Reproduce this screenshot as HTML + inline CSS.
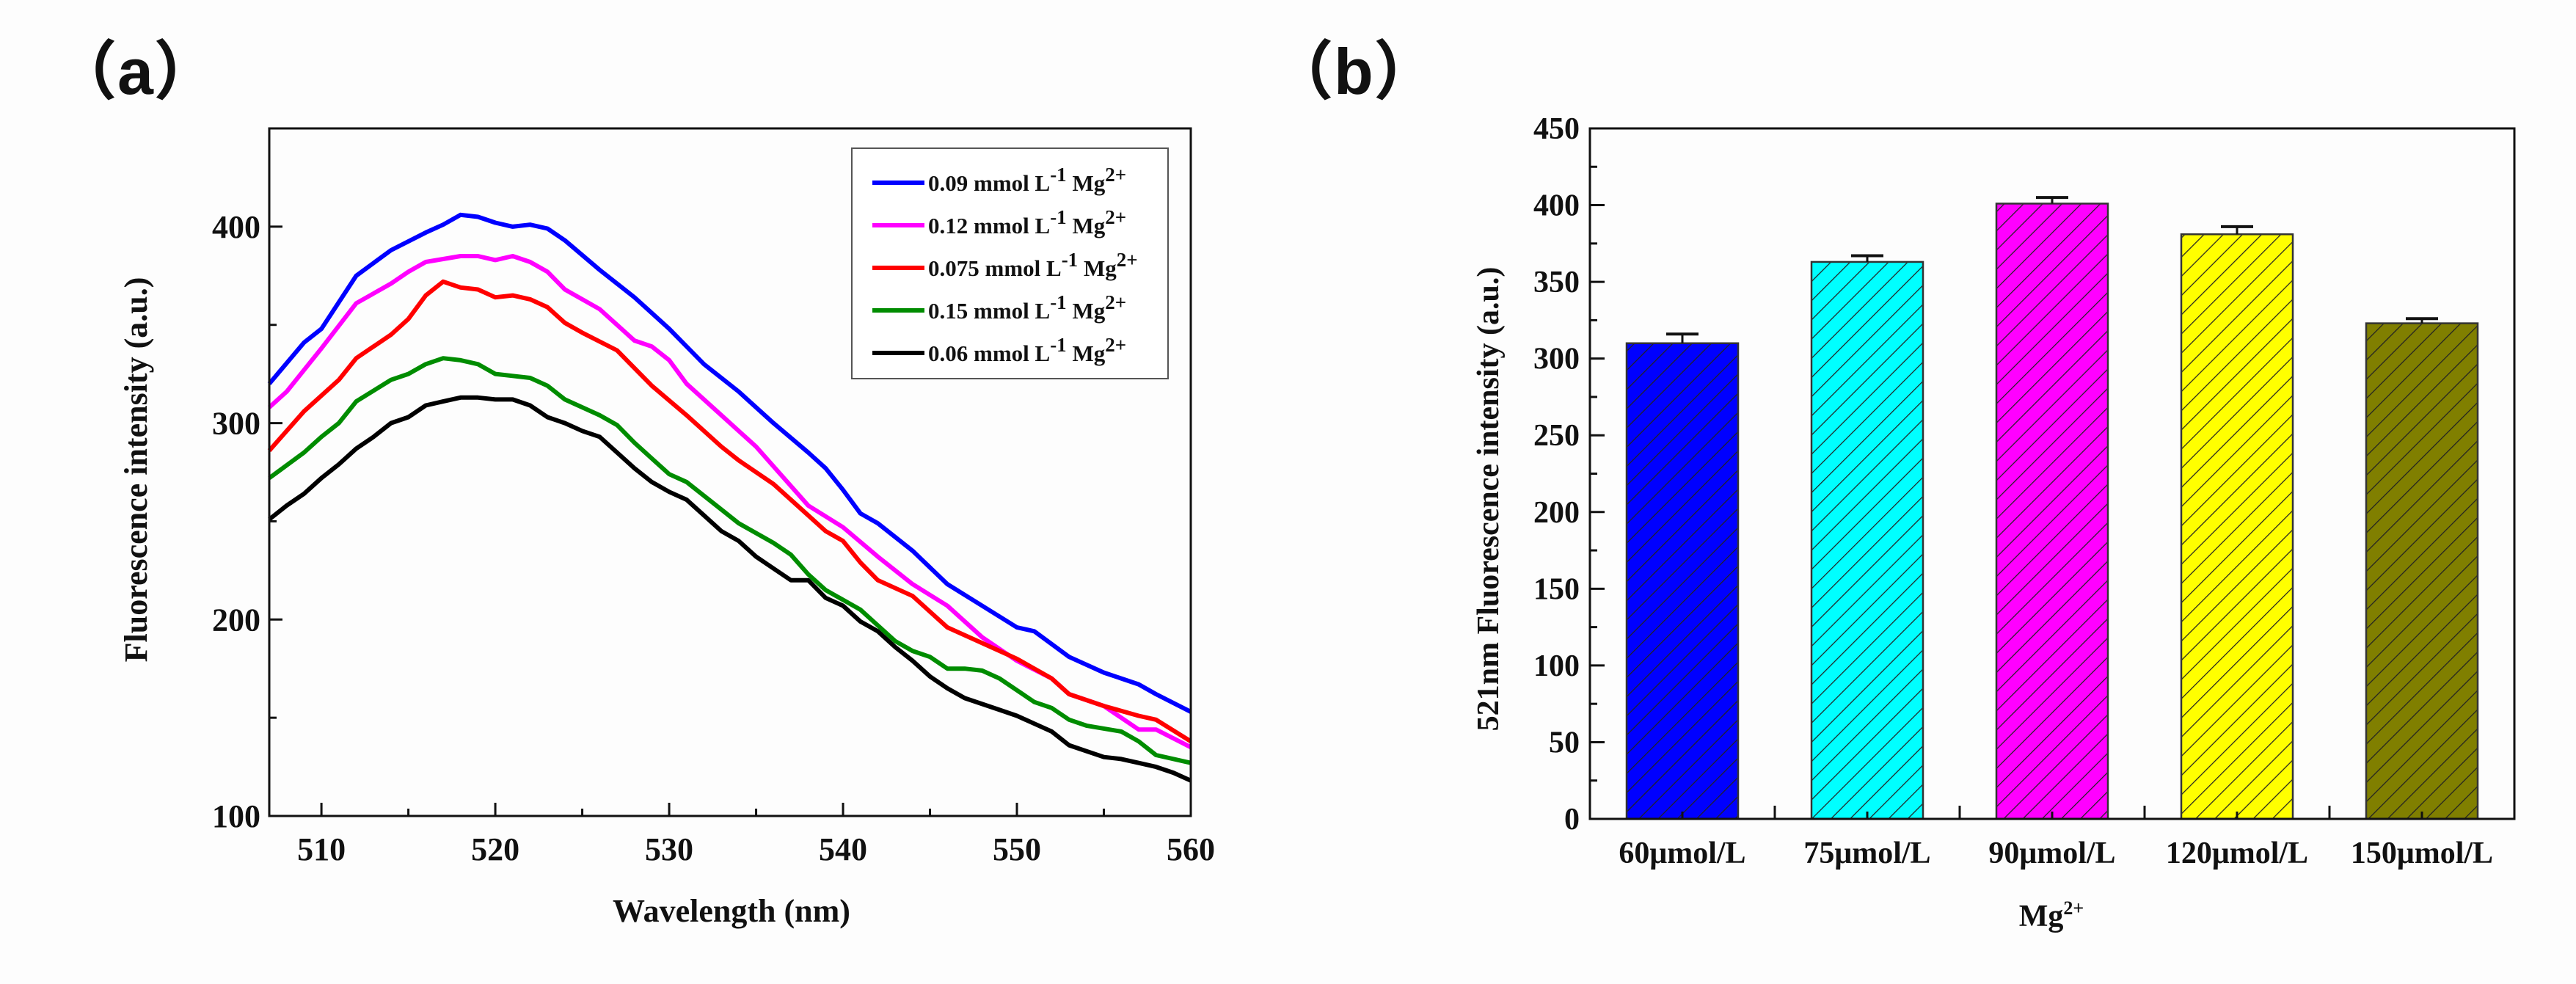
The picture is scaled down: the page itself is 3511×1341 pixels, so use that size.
<!DOCTYPE html>
<html><head><meta charset="utf-8"><style>
html,body{margin:0;padding:0;background:#fdfdfd;}
svg{display:block;}
text{font-family:"Liberation Serif",serif;font-weight:bold;fill:#111;}
.lbl{font-family:"Liberation Sans","Noto Sans CJK SC",sans-serif;}
</style></head><body>
<svg id="fig" width="3511" height="1341" viewBox="0 0 3511 1341" xmlns="http://www.w3.org/2000/svg">
<defs>
<pattern id="hatch" patternUnits="userSpaceOnUse" width="18.5" height="18.5" patternTransform="rotate(45)">
<line x1="0" y1="0" x2="0" y2="18.5" stroke="#222" stroke-width="2.5"/>
</pattern>
</defs>
<g id="pa"></g>
<g id="pb"></g>
</svg>
<script>
// ---------- Panel A data ----------
const seriesNames = ["0.09 mmol L","0.12 mmol L","0.075 mmol L","0.15 mmol L","0.06 mmol L"];
const seriesColors = ["#0000ff","#ff00ff","#ff0000","#008c00","#000000"];
const blueX = [507,509,510,512,514,516,517,518,519,520,521,522,523,524,526,528,530,531,532,534,536,538,539,540,541,542,544,546,548,550,551,553,555,557,558,560];
const blueY = [320,341,348,375,388,397,401,406,405,402,400,401,399,393,378,364,348,339,330,316,300,285,277,266,254,249,235,218,207,196,194,181,173,167,162,153];
const magX = [507,508,510,512,514,515,516,518,519,520,521,522,523,524,526,528,529,530,531,533,535,536,537,538,540,542,544,546,548,550,552,553,555,557,558,560];
const magY = [308,316,338,361,371,377,382,385,385,383,385,382,377,368,358,342,339,332,320,304,288,278,268,258,247,232,218,207,191,179,170,162,156,144,144,135];
const redX = [507,509,510,511,512,514,515,516,517,518,519,520,521,522,523,524,525,527,529,531,533,534,536,538,539,540,541,542,544,546,548,550,551,552,553,555,557,558,560];
const redY = [286,306,314,322,333,345,353,365,372,369,368,364,365,363,359,351,346,337,319,304,288,281,269,253,245,240,229,220,212,196,188,180,175,170,162,156,151,149,138];
const greenX = [507,509,510,511,512,514,515,516,517,518,519,520,521,522,523,524,526,527,528,529,530,531,532,533,534,536,537,538,539,541,542,543,544,545,546,547,548,549,551,552,553,554,556,557,558,560];
const greenY = [272,285,293,300,311,322,325,330,333,332,330,325,324,323,319,312,304,299,290,282,274,270,263,256,249,239,233,223,215,205,197,189,184,181,175,175,174,170,158,155,149,146,143,138,131,127];
const blackX = [507,508,509,510,511,512,513,514,515,516,517,518,519,520,521,522,523,524,525,526,527,528,529,530,531,532,533,534,535,536,537,538,539,540,541,542,543,544,545,546,547,548,549,550,551,552,553,554,555,556,557,558,559,560];
const blackY = [251,258,264,272,279,287,293,300,303,309,311,313,313,312,312,309,303,300,296,293,285,277,270,265,261,253,245,240,232,226,220,220,211,207,199,194,186,179,171,165,160,157,154,151,147,143,136,133,130,129,127,125,122,118];
const xTicksA = [510,520,530,540,550,560];
const yTicksA = [100,200,300,400];

// ---------- Panel B data ----------
const categories = ["60μmol/L","75μmol/L","90μmol/L","120μmol/L","150μmol/L"];
const barValues = [310,363,401,381,323];
const barErrors = [6,4,4,5,3];
const barColors = ["#0000ff","#00ffff","#ff00ff","#ffff00","#807f00"];
const yTicksB = [0,50,100,150,200,250,300,350,400,450];

const NS="http://www.w3.org/2000/svg";
function mk(parent,tag,attrs,txt){const e=document.createElementNS(NS,tag);for(const k in attrs)e.setAttribute(k,attrs[k]);if(txt!==undefined)e.textContent=txt;parent.appendChild(e);return e;}

// ---------- Panel A ----------
const pa=document.getElementById('pa');
const A={l:367,r:1623,t:175,b:1112,x0:507,x1:560,y0:100,y1:450};
const ax=v=>A.l+(v-A.x0)/(A.x1-A.x0)*(A.r-A.l);
const ay=v=>A.b-(v-A.y0)/(A.y1-A.y0)*(A.b-A.t);
let t=mk(pa,'text',{x:72,y:128,'font-size':88,class:'lbl'},'（a）');


const sX=[blueX,magX,redX,greenX,blackX], sY=[blueY,magY,redY,greenY,blackY];
for(let s=0;s<5;s++){
  const d=sX[s].map((x,i)=>(i?'L':'M')+ax(x).toFixed(1)+' '+ay(sY[s][i]).toFixed(1)).join(' ');
  const p=mk(pa,'path',{d:d,fill:'none',stroke:seriesColors[s],'stroke-width':6,'stroke-linejoin':'round'});
  
  
}
let box=mk(pa,'rect',{x:A.l,y:A.t,width:A.r-A.l,height:A.b-A.t,fill:'none',stroke:'#111','stroke-width':3});


for(let v=510;v<=560;v+=5){const x=ax(v);mk(pa,'line',{x1:x,x2:x,y1:A.b,y2:A.b-(v%10?10:18),stroke:'#111','stroke-width':3});}
for(let v=150;v<=450;v+=50){const y=ay(v);mk(pa,'line',{x1:A.l,x2:A.l+(v%100?10:18),y1:y,y2:y,stroke:'#111','stroke-width':3});}
xTicksA.forEach(v=>{const e=mk(pa,'text',{x:ax(v),y:1172,'font-size':44,'text-anchor':'middle'},String(v));

});
yTicksA.forEach(v=>{const e=mk(pa,'text',{x:A.l-12,y:ay(v)+15,'font-size':44,'text-anchor':'end'},String(v));

});
t=mk(pa,'text',{x:997,y:1256,'font-size':44,'text-anchor':'middle'},'Wavelength (nm)');


t=mk(pa,'text',{x:0,y:0,'font-size':44,'text-anchor':'middle',transform:'translate(200,640) rotate(-90)'},'Fluorescence intensity (a.u.)');


const lg=mk(pa,'g',{});


mk(lg,'rect',{x:1161,y:202,width:431,height:314,fill:'#fff',stroke:'#555','stroke-width':2});
for(let s=0;s<5;s++){
  const y=249+s*58;
  const g=mk(lg,'g',{});
  
  
  mk(g,'line',{x1:1189,x2:1260,y1:y,y2:y,stroke:seriesColors[s],'stroke-width':6});
  const tx=mk(g,'text',{x:1265,y:y+11,'font-size':31});
  mk(tx,'tspan',{},seriesNames[s]);
  mk(tx,'tspan',{dy:-13,'font-size':27},'-1');
  mk(tx,'tspan',{dy:13},' Mg');
  mk(tx,'tspan',{dy:-13,'font-size':27},'2+');
}

// ---------- Panel B ----------
const pb=document.getElementById('pb');
const B={l:2167,r:3427,t:175,b:1116,y0:0,y1:450};
const n=categories.length, slot=(B.r-B.l)/n;
const bx=i=>B.l+slot*(i+0.5);
const by=v=>B.b-(v-B.y0)/(B.y1-B.y0)*(B.b-B.t);
t=mk(pb,'text',{x:1730,y:128,'font-size':88,class:'lbl'},'（b）');


const bw=152;
for(let i=0;i<n;i++){
  const g=mk(pb,'g',{});
  
  
  const x=bx(i)-bw/2,y=by(barValues[i]),h=B.b-y;
  mk(g,'rect',{x:x,y:y,width:bw,height:h,fill:barColors[i]});
  mk(g,'rect',{x:x,y:y,width:bw,height:h,fill:'url(#hatch)',stroke:'#333','stroke-width':2.5});
  const ye=by(barValues[i]+barErrors[i]);
  mk(g,'line',{x1:bx(i),x2:bx(i),y1:y,y2:ye,stroke:'#111','stroke-width':3});
  mk(g,'line',{x1:bx(i)-22,x2:bx(i)+22,y1:ye,y2:ye,stroke:'#111','stroke-width':4});
  const e=mk(pb,'text',{x:bx(i),y:1176,'font-size':42,'text-anchor':'middle'},categories[i]);
  
  
}
box=mk(pb,'rect',{x:B.l,y:B.t,width:B.r-B.l,height:B.b-B.t,fill:'none',stroke:'#111','stroke-width':3});


for(let v=25;v<450;v+=25){const y=by(v);mk(pb,'line',{x1:B.l,x2:B.l+(v%50?10:20),y1:y,y2:y,stroke:'#111','stroke-width':3});}
for(let i=1;i<n;i++){const x=B.l+slot*i;mk(pb,'line',{x1:x,x2:x,y1:B.b,y2:B.b-18,stroke:'#111','stroke-width':3});}
for(let i=0;i<n;i++){mk(pb,'line',{x1:bx(i),x2:bx(i),y1:B.b,y2:B.b-10,stroke:'#111','stroke-width':3});}
yTicksB.forEach(v=>{const e=mk(pb,'text',{x:B.l-14,y:by(v)+14,'font-size':42,'text-anchor':'end'},String(v));

});
t=mk(pb,'text',{x:2796,y:1262,'font-size':42,'text-anchor':'middle'});
mk(t,'tspan',{},'Mg');
mk(t,'tspan',{dy:-16,'font-size':26},'2+');


t=mk(pb,'text',{x:0,y:0,'font-size':42,'text-anchor':'middle',transform:'translate(2042,680) rotate(-90)'},'521nm Fluorescence intensity (a.u.)');


</script>
</body></html>
